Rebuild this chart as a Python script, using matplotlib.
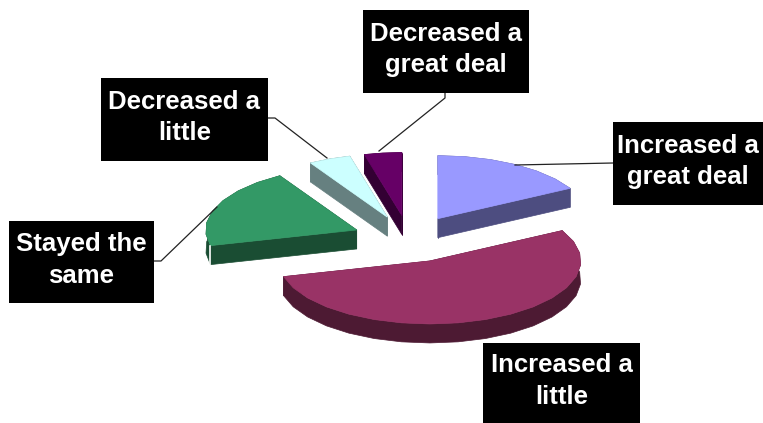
import numpy as np
import matplotlib
matplotlib.use("Agg")
import matplotlib.pyplot as plt
from matplotlib.patches import Polygon, Rectangle

# Share of answers per category, clockwise from 12 o'clock
categories = ["Increased a\ngreat deal", "Increased a\nlittle", "Stayed the\nsame",
              "Decreased a\nlittle", "Decreased a\ngreat deal"]
shares = [17, 54, 20.5, 4.5, 4]
top_colors = ["#9999FF", "#993366", "#339966", "#CCFFFF", "#660066"]
side_colors = ["#4D4D80", "#4D1A33", "#1A4D33", "#668080", "#330033"]

# Pie geometry in pixels
center_x, center_y = 409, 239
radius_x, radius_y = 151, 63
depth = 19
explode = 0.375
facet_deg = 11

# Label boxes: left, top, right, bottom
boxes = [(613, 122, 763, 205), (483, 343, 640, 423), (9, 221, 154, 303),
         (101, 78, 268, 161), (363, 10, 529, 93)]
leaders = [[(613, 163), (515, 165)], None,
           [(154, 261), (161, 261), (217, 207)],
           [(268, 118), (275, 118), (327, 158)],
           [(445, 93), (445, 98), (379, 151)]]

fig = plt.figure(figsize=(7.63, 4.23), dpi=100)
ax = fig.add_axes([0, 0, 1, 1])
ax.set_xlim(0, 763)
ax.set_ylim(423, 0)
ax.axis("off")


def wedge_outline(start, sweep, share_mid):
    # top face of one exploded slice as a coarse polygon
    mid = np.radians(share_mid)
    cx = center_x + explode * radius_x * np.cos(mid)
    cy = center_y - explode * radius_y * np.sin(mid)
    n = max(2, int(round(abs(sweep) / facet_deg)))
    t = np.radians(np.linspace(start, start + sweep, n + 1))
    xs = np.r_[cx, cx + radius_x * np.cos(t)]
    ys = np.r_[cy, cy - radius_y * np.sin(t)]
    return np.column_stack((xs, ys))


# Work out the slice angles from the shares
angles = np.array(shares) / sum(shares) * 360.0
starts = 90 - np.r_[0, np.cumsum(angles)[:-1]]

outlines = []
for s, a in zip(starts, angles):
    outlines.append(wedge_outline(s, -a, s - a / 2))

# Back slices first so the front ones overlap them
drop = np.array([0, depth])
for i in [4, 3, 0, 2, 1]:
    pts = outlines[i]
    rim = pts[1:]
    sides = [np.vstack((rim, rim[::-1] + drop)),
             np.vstack((pts[0], pts[1], pts[1] + drop, pts[0] + drop)),
             np.vstack((pts[0], pts[-1], pts[-1] + drop, pts[0] + drop))]
    for side in sides:
        ax.add_patch(Polygon(side, closed=True, fc=side_colors[i], ec=side_colors[i], lw=0.5))
    ax.add_patch(Polygon(pts, closed=True, fc=top_colors[i], ec=top_colors[i], lw=0.5))

# Small white seam where the green rim meets its cut face
seam = outlines[2][1]
ax.plot([seam[0], seam[0]], [seam[1], seam[1] + depth], color="white", lw=1.2)

for line in leaders:
    if line is not None:
        ax.plot(*zip(*line), color="#222222", lw=0.9)

for label, (x0, y0, x1, y1) in zip(categories, boxes):
    ax.add_patch(Rectangle((x0, y0), x1 - x0, y1 - y0, fc="black", ec="none", zorder=3))
    ax.text((x0 + x1) / 2, (y0 + y1) / 2 - 2, label, color="white", ha="center", va="center",
            family="Liberation Sans", weight="bold", fontsize=18.5, linespacing=1.4, zorder=4)

fig.savefig("out.png", dpi=100)
